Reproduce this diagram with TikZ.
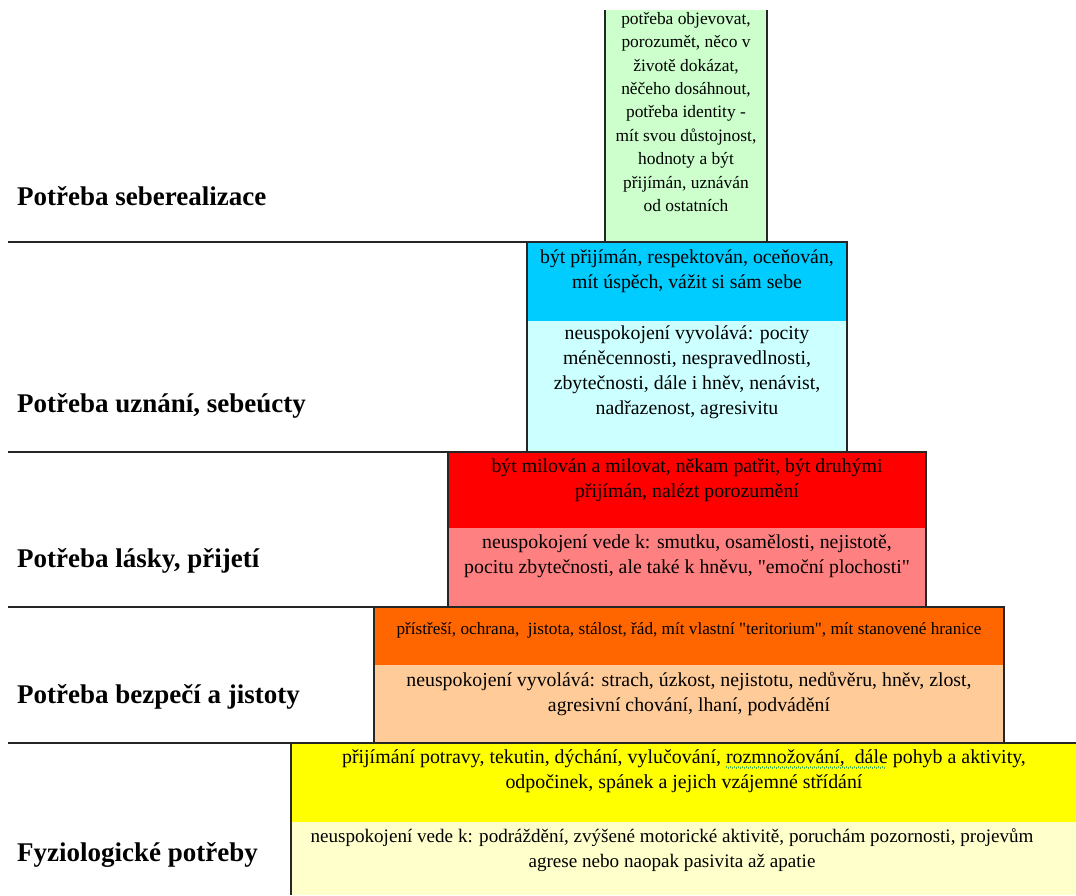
\documentclass[tikz,border=0pt]{standalone}
\usepackage{fontspec}
\setmainfont{Liberation Serif}[Ligatures=TeXOff]
\definecolor{cGreen}{HTML}{CCFFCC}
\definecolor{cBlue}{HTML}{00CCFF}
\definecolor{cCyan}{HTML}{CCFFFF}
\definecolor{cRed}{HTML}{FF0000}
\definecolor{cPink}{HTML}{FF8080}
\definecolor{cOrange}{HTML}{FF6600}
\definecolor{cPeach}{HTML}{FFCC99}
\definecolor{cYellow}{HTML}{FFFF00}
\definecolor{cLightYellow}{HTML}{FFFFCC}
\definecolor{cSquiggle}{HTML}{4CB34C}
\newsavebox\wavebox
\newcommand\squigunit{\hbox to 4pt{\textcolor{cSquiggle}{\rule[-4pt]{1.2pt}{1.2pt}}\hskip0.8pt\textcolor{cSquiggle}{\rule[-5pt]{1.2pt}{1.2pt}}\hss}}
\newcommand\greenwave[1]{\sbox\wavebox{#1}\rlap{\hbox to \wd\wavebox{\leaders\squigunit\hfill}}\usebox\wavebox}
\tikzset{
  lvl/.style={anchor=west, inner sep=0pt, font=\fontsize{27}{30}\selectfont\bfseries},
  cell/.style={anchor=north, align=center, inner sep=0pt, font=\fontsize{19.8}{25}\selectfont},
  edge/.style={draw=black!85, line width=1.3pt}
}
\begin{document}
\begin{tikzpicture}[x=1pt,y=-1pt]
\useasboundingbox (0,0) rectangle (1076,895);
% level 5: green
\fill[cGreen] (605,10) rectangle (767,242);
\draw[edge] (605,10) -- (605,242) (767,10) -- (767,242);
\node[cell, font=\fontsize{17.4}{23.4}\selectfont] (g) at (686,12)
  {potřeba objevovat,\\ porozumět, něco v\\ životě dokázat,\\ něčeho dosáhnout,\\ potřeba identity -\\ mít svou důstojnost,\\ hodnoty a být\\ přijímán, uznáván\\ od ostatních};
% level 4: blue
\fill[cBlue] (527,242) rectangle (847,321);
\fill[cCyan] (527,321) rectangle (847,452);
\draw[edge] (527,242) rectangle (847,452);
\node[cell] (b1) at (687,249.5) {být přijímán, respektován, oceňován,\\ mít úspěch, vážit si sám sebe};
\node[cell] (b2) at (687,325.5) {neuspokojení vyvolává: pocity\\ méněcennosti, nespravedlnosti,\\ zbytečnosti, dále i hněv, nenávist,\\ nadřazenost, agresivitu};
% level 3: red
\fill[cRed] (448,452) rectangle (926,528);
\fill[cPink] (448,528) rectangle (926,607);
\draw[edge] (448,452) rectangle (926,607);
\node[cell] (r1) at (687,458.5) {být milován a milovat, někam patřit, být druhými\\ přijímán, nalézt porozumění};
\node[cell] (r2) at (687,534.5) {neuspokojení vede k: smutku, osamělosti, nejistotě,\\ pocitu zbytečnosti, ale také k hněvu, "emoční plochosti"};
% level 2: orange
\fill[cOrange] (374,607) rectangle (1004,665);
\fill[cPeach] (374,665) rectangle (1004,743);
\draw[edge] (374,607) rectangle (1004,743);
\node[cell, font=\fontsize{17.2}{20}\selectfont] (o1) at (689,622) {přístřeší, ochrana,\ \ jistota, stálost, řád, mít vlastní "teritorium", mít stanovené hranice};
\node[cell] (o2) at (689,671.5) {neuspokojení vyvolává: strach, úzkost, nejistotu, nedůvěru, hněv, zlost,\\ agresivní chování, lhaní, podvádění};
% level 1: yellow
\fill[cYellow] (291,743) rectangle (1076,822);
\fill[cLightYellow] (291,822) rectangle (1076,895);
\draw[edge] (1076,743) -- (291,743) -- (291,895);
\node[cell, font=\fontsize{19.9}{25}\selectfont] (y1) at (684,749.5) {přijímání potravy, tekutin, dýchání, vylučování, \greenwave{rozmnožování,\ \ dále} pohyb a aktivity,\\ odpočinek, spánek a jejich vzájemné střídání};
\node[cell, font=\fontsize{19.1}{25}\selectfont] (y2) at (672,828.5) {neuspokojení vede k: podráždění, zvýšené motorické aktivitě, poruchám pozornosti, projevům\\ agrese nebo naopak pasivita až apatie};
% left separator lines
\draw[edge] (8,242) -- (527,242);
\draw[edge] (8,452) -- (448,452);
\draw[edge] (8,607) -- (374,607);
\draw[edge] (8,743) -- (291,743);
% level labels
\node[lvl] (l5) at (17,196) {Potřeba seberealizace};
\node[lvl] (l4) at (17,406) {Potřeba uznání, sebeúcty};
\node[lvl] (l3) at (17,561) {Potřeba lásky, přijetí};
\node[lvl] (l2) at (17,697) {Potřeba bezpečí a jistoty};
\node[lvl] (l1) at (17,855) {Fyziologické potřeby};
\end{tikzpicture}
\end{document}
